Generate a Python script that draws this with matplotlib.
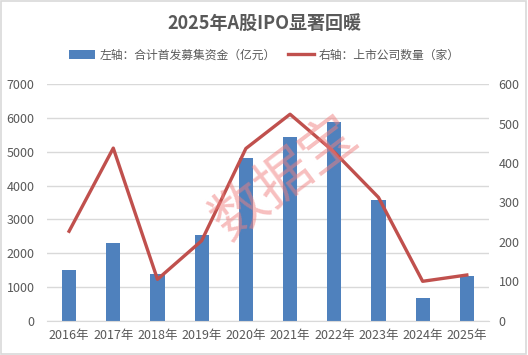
import numpy as np
import matplotlib.pyplot as plt

plt.rcParams['font.family'] = ['Noto Sans CJK SC', 'DejaVu Sans']

years = ['2016年', '2017年', '2018年', '2019年', '2020年',
         '2021年', '2022年', '2023年', '2024年', '2025年']
funds = [1496, 2301, 1378, 2532, 4806, 5427, 5869, 3565, 674, 1317]
ipo_count = [227, 438, 105, 203, 437, 524, 428, 313, 100, 116]

gray = '#595959'
bar_color = '#4f81bd'
line_color = '#c0504d'

fig = plt.figure(figsize=(5.28, 3.55), dpi=100)
ax = fig.add_axes([0.089, 0.0966, 0.837, 0.666])
ax2 = ax.twinx()

x = np.arange(len(years))
ax.bar(x, funds, width=0.32, color=bar_color, zorder=2,
       label='左轴：合计首发募集资金（亿元）')
ax2.plot(x, ipo_count, color=line_color, lw=2.4, zorder=3,
         label='右轴：上市公司数量（家）')

ax.set_xlim(-0.5, len(years) - 0.5)
ax.set_ylim(0, 7000)
ax.set_yticks(range(0, 7001, 1000))
ax2.set_ylim(0, 600)
ax2.set_yticks(range(0, 601, 100))
ax.set_xticks(x)
ax.set_xticklabels(years)

ax.grid(axis='y', color='#d9d9d9', lw=1, zorder=0)
for a in (ax, ax2):
    for s in a.spines.values():
        s.set_visible(False)
    a.tick_params(length=0, labelsize=9, colors=gray)
ax.spines['bottom'].set_visible(True)
ax.spines['bottom'].set_color('#d9d9d9')
ax.tick_params(axis='y', pad=9)
ax2.tick_params(axis='y', pad=7)
ax.tick_params(axis='x', pad=6)

fig.text(0.5, 0.935, '2025年A股IPO显著回暖', ha='center', va='center',
         fontsize=13, fontweight='bold', color=gray)

h1, l1 = ax.get_legend_handles_labels()
h2, l2 = ax2.get_legend_handles_labels()
fig.legend(h1 + h2, l1 + l2, loc='center', bbox_to_anchor=(0.5, 0.845),
           ncol=2, frameon=False, fontsize=8.5, labelcolor=gray,
           handlelength=2.2, handletextpad=0.4, columnspacing=1.0)

# 水印
fig.text(0.54, 0.5, '数据宝', ha='center', va='center', rotation=37,
         fontsize=40, fontweight='light', color='#f08080', alpha=0.5, zorder=10)

# 外框
fig.patches.append(plt.Rectangle((0.002, 0.003), 0.995, 0.994, transform=fig.transFigure,
                                 fill=False, edgecolor='#d9d9d9', lw=1.2))

fig.savefig('out.png', dpi=100)
